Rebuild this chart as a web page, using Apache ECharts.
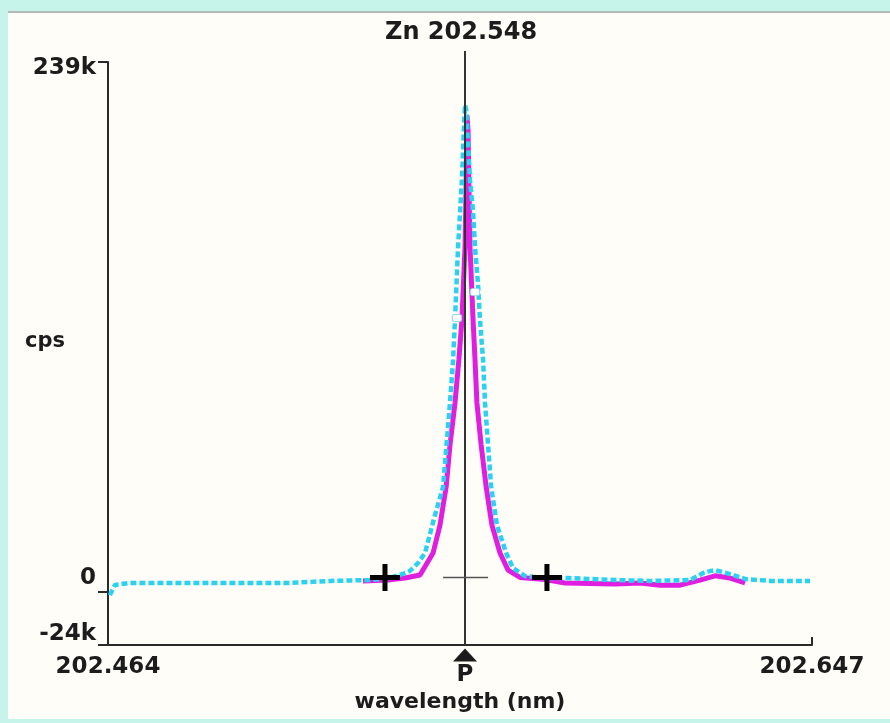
<!DOCTYPE html>
<html>
<head>
<meta charset="utf-8">
<script src="https://cdn.jsdelivr.net/npm/echarts@6/dist/echarts.min.js"></script>
<style>
    body{
        margin: 0;
        background: #c6f3ea;
    }
    .panel{
        position: absolute;
        left: 8px;
        top: 11px;
        width: 882px;
        height: 706px;
        background: #fffdf7;
        border-top: 2px solid #b4b8b6;
    }
    #main{
        position: absolute;
        left: 0;
        top: 0;
        width: 890px;
        height: 723px;
    }
</style>
</head>
<body>
<div class="panel"></div>
<div id="main"></div>
<script>
// wavelength (nm) and intensity (k cps)
var cyanWave = [202.4645, 202.4658, 202.4697, 202.4775, 202.4879, 202.4983, 202.5113, 202.5217, 202.5321, 202.5360,
    202.5399, 202.5425, 202.5446, 202.5464, 202.5490, 202.5511, 202.5521, 202.5529, 202.5537, 202.5542,
    202.5550, 202.5555, 202.5560, 202.5565, 202.5568, 202.5571, 202.5576, 202.5581, 202.5589, 202.5594,
    202.5602, 202.5607, 202.5615, 202.5620, 202.5628, 202.5636, 202.5651, 202.5675, 202.5693, 202.5724,
    202.5776, 202.5833, 202.5958, 202.6049, 202.6153, 202.6192, 202.6218, 202.6257, 202.6296, 202.6361,
    202.6465]
var cyanCps = [-1.5, 3.1, 4.0, 4.0, 4.0, 4.0, 4.0, 4.9, 5.3, 5.8,
    7.6, 9.4, 13, 17.5, 34.6, 47.3, 68.5, 85.2, 104.6, 122.6,
    155.5, 170.9, 185.8, 208.3, 219.6, 217.4, 201.6, 185.8, 171.3, 155.5,
    138.4, 122.6, 104.6, 85.2, 66.2, 47.3, 30.1, 17.5, 10.7, 7.1,
    6.2, 6.2, 5.3, 4.9, 5.3, 8.9, 9.8, 8.0, 5.8, 4.9,
    4.9]

var magentaWave = [202.5303, 202.5368, 202.5412, 202.5451, 202.5485, 202.5503, 202.5519, 202.5529, 202.5542, 202.5552,
    202.5560, 202.5568, 202.5571, 202.5573, 202.5576, 202.5578, 202.5581, 202.5589, 202.5594, 202.5599,
    202.5610, 202.5623, 202.5638, 202.5659, 202.5680, 202.5711, 202.5776, 202.5828, 202.5958, 202.6023,
    202.6075, 202.6127, 202.6179, 202.6218, 202.6257, 202.6296]
var magentaCps = [4.9, 5.3, 6.2, 7.6, 17.5, 30.1, 47.3, 66.2, 85.2, 104.6,
    122.6, 155.5, 185.8, 215, 208, 185.8, 155.5, 122.6, 104.6, 85.2,
    66.2, 47.3, 30.1, 17.5, 9.8, 6.5, 5.5, 4.0, 3.5, 4.0,
    3.0, 3.0, 5.3, 7.2, 6.2, 4.0]

// peak marker, background points and cursor
var peakWave = 202.5568
var peakLine = [-24, 244]
var bgWave = [202.5360, 202.5781]
var bgCps = [6.4, 6.4]
var cursorWave = [202.5511, 202.5628]
var cursorCps = 6.4
var boxWave = [202.5547, 202.5594]
var boxCps = [123.5, 135.2]

var xTicks = [202.464, 202.647]
var yTicks = [-24, 0, 239]

var chart = echarts.init(document.getElementById('main'))
var font = 'DejaVu Sans'

function pairs(xs, ys){
    var out = []
    for(var i=0; i<xs.length; i++){
        out.push([xs[i], ys[i]])
    }
    return out
}

var option = {
    backgroundColor: 'transparent',
    animation: false,
    title: [
        {
            text: 'Zn 202.548',
            left: 380,
            top: 16,
            textStyle: {
                fontFamily: font,
                fontSize: 24,
                fontWeight: 'bold',
                color: '#1c1c1c'
            }
        },
        {
            // y axis name, sits well above the middle of the axis
            text: 'cps',
            left: 20,
            top: 326,
            textStyle: {
                fontFamily: font,
                fontSize: 21,
                fontWeight: 'bold',
                color: '#1c1c1c'
            }
        }
    ],
    grid: {
        left: 108,
        right: 78,
        top: 62,
        bottom: 78,
        containLabel: false,
        outerBoundsMode: 'none'
    },
    xAxis: {
        type: 'value',
        min: xTicks[0],
        max: xTicks[1],
        name: 'wavelength (nm)',
        nameLocation: 'middle',
        nameGap: 57,
        nameTextStyle: {
            fontFamily: font,
            fontSize: 22,
            fontWeight: 'bold',
            color: '#1c1c1c',
            verticalAlign: 'middle'
        },
        splitLine: {show: false},
        axisLine: {
            onZero: false,
            lineStyle: {color: '#2a2a2a', width: 2}
        },
        axisTick: {
            show: true,
            inside: true,
            length: 8,
            customValues: [xTicks[1]],
            lineStyle: {color: '#2a2a2a', width: 2}
        },
        axisLabel: {
            customValues: xTicks,
            margin: 11,
            fontFamily: font,
            fontSize: 23,
            fontWeight: 'bold',
            color: '#1c1c1c',
            formatter: function(v){ return v.toFixed(3) }
        }
    },
    yAxis: {
        type: 'value',
        min: yTicks[0],
        max: yTicks[2],
        splitLine: {show: false},
        axisLine: {
            show: true,
            lineStyle: {color: '#2a2a2a', width: 2}
        },
        axisTick: {
            show: true,
            length: 10,
            customValues: yTicks,
            lineStyle: {color: '#2a2a2a', width: 2}
        },
        axisLabel: {
            customValues: yTicks,
            margin: 12,
            fontFamily: font,
            fontSize: 23,
            fontWeight: 'bold',
            color: '#1c1c1c',
            formatter: function(v){
                if (v == 0) return '{up|0}'
                if (v < 0) return '{up2|' + v + 'k}'
                return '{down|' + v + 'k}'
            },
            rich: {
                up: {fontFamily: font, fontSize: 23, fontWeight: 'bold', padding: [0, 0, 28, 0]},
                up2: {fontFamily: font, fontSize: 23, fontWeight: 'bold', padding: [0, 0, 22, 0]},
                down: {fontFamily: font, fontSize: 23, fontWeight: 'bold', padding: [12, 0, 0, 0]}
            }
        }
    },
    series: [
        {
            name: 'magenta',
            type: 'line',
            data: pairs(magentaWave, magentaCps),
            showSymbol: false,
            z: 2,
            lineStyle: {color: '#e01ee0', width: 5}
        },
        {
            name: 'cyan',
            type: 'line',
            data: pairs(cyanWave, cyanCps),
            showSymbol: false,
            z: 3,
            lineStyle: {color: '#2ad2f2', width: 4.5, type: [6, 3]}
        },
        {
            name: 'peak',
            type: 'line',
            data: [[peakWave, peakLine[0]], [peakWave, peakLine[1]]],
            showSymbol: false,
            clip: false,
            z: 4,
            lineStyle: {color: '#333', width: 2},
            markPoint: {
                symbol: 'triangle',
                symbolSize: [24, 13],
                symbolOffset: [0, 10],
                itemStyle: {color: '#1c1c1c'},
                label: {
                    show: true,
                    position: 'bottom',
                    distance: 2,
                    formatter: 'P',
                    fontFamily: font,
                    fontSize: 23,
                    fontWeight: 'bold',
                    color: '#1c1c1c'
                },
                data: [{coord: [peakWave, peakLine[0]]}]
            }
        },
        {
            name: 'cursor',
            type: 'line',
            data: [[cursorWave[0], cursorCps], [cursorWave[1], cursorCps]],
            showSymbol: false,
            z: 4,
            lineStyle: {color: '#555', width: 1.5}
        },
        {
            name: 'background',
            type: 'scatter',
            data: pairs(bgWave, bgCps),
            symbol: 'path://M0,11h30v5h-30z M12.5,0h5v27h-5z',
            symbolSize: [30, 27],
            z: 5,
            itemStyle: {color: '#000', opacity: 1}
        },
        {
            name: 'boxes',
            type: 'scatter',
            data: pairs(boxWave, boxCps),
            symbol: 'roundRect',
            symbolSize: [9, 7],
            z: 5,
            itemStyle: {color: '#ffffff', borderColor: '#9adbe8', borderWidth: 1, opacity: 1}
        }
    ]
}
chart.setOption(option)
</script>
</body>
</html>
